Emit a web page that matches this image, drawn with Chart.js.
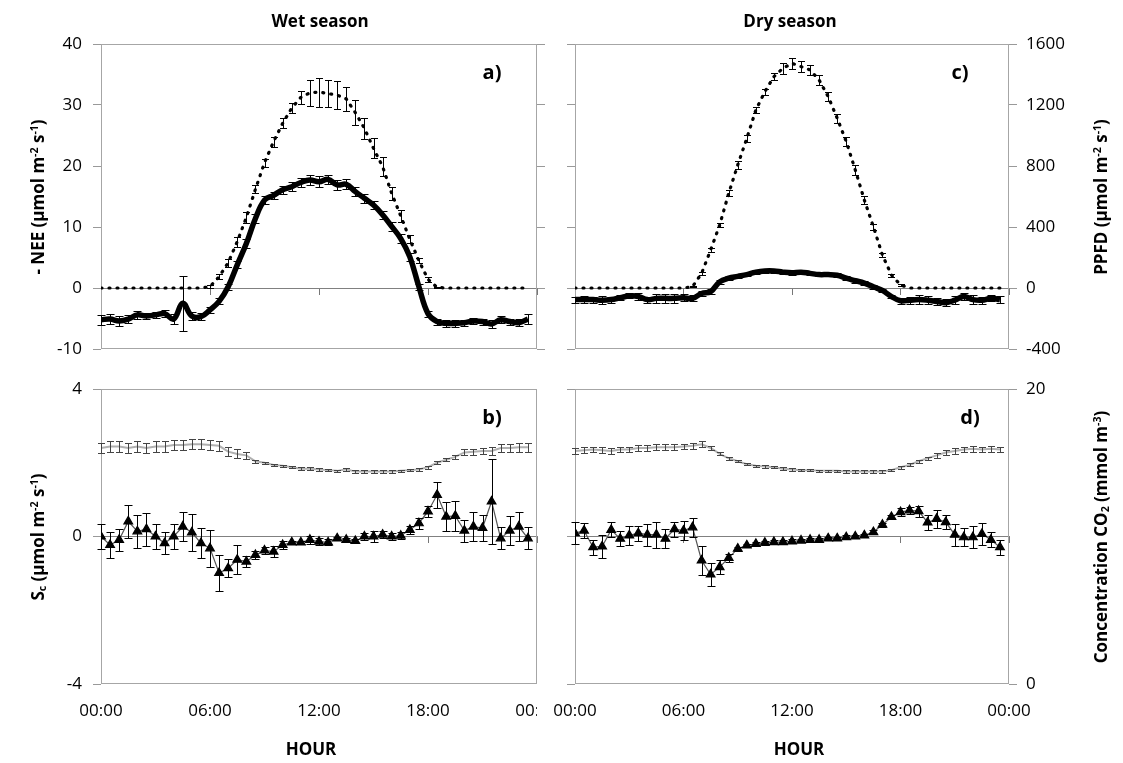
<!DOCTYPE html>
<html><head><meta charset="utf-8">
<script src="https://cdn.jsdelivr.net/npm/chart.js@4.4.1/dist/chart.umd.min.js"></script>
<style>
html,body{margin:0;padding:0;background:#fff;}
body{width:1123px;height:763px;position:relative;overflow:hidden;font-family:'Open Sans',sans-serif;color:#000;}
.pane{position:absolute;}
.pane canvas{display:block;}
.t{position:absolute;font-weight:bold;white-space:nowrap;transform:translate(-50%,-50%);line-height:1;z-index:5;}
.r{transform:translate(-50%,-50%) rotate(-90deg);}
sup{font-size:0.62em;vertical-align:0.55em;line-height:0;}
sub{font-size:0.62em;vertical-align:-0.25em;line-height:0;}
</style></head><body>
<div class="pane" style="left:0;top:0;z-index:1"><canvas id="cA" width="560" height="360"></canvas></div>
<div class="pane" style="left:0;top:360px;z-index:1"><canvas id="cB" width="560" height="403"></canvas></div>
<div style="position:absolute;left:537px;top:700px;width:23px;height:26px;background:#fff;z-index:2"></div>
<div class="pane" style="left:540px;top:0;z-index:3"><canvas id="cC" width="583" height="360"></canvas></div>
<div class="pane" style="left:540px;top:360px;z-index:3"><canvas id="cD" width="583" height="403"></canvas></div>

<div class="t" style="left:320px;top:20px;font-size:17px">Wet season</div>
<div class="t" style="left:790px;top:20px;font-size:17px">Dry season</div>
<div class="t" style="left:492px;top:72px;font-size:20px">a)</div>
<div class="t" style="left:492px;top:417px;font-size:20px">b)</div>
<div class="t" style="left:960px;top:72px;font-size:20px">c)</div>
<div class="t" style="left:970px;top:417px;font-size:20px">d)</div>
<div class="t" style="left:311px;top:748px;font-size:17px">HOUR</div>
<div class="t" style="left:799px;top:748px;font-size:17px">HOUR</div>
<div class="t r" style="left:37px;top:197px;font-size:17px">- NEE (µmol m<sup>-2</sup> s<sup>-1</sup>)</div>
<div class="t r" style="left:37px;top:537px;font-size:17px">S<sub>c</sub> (µmol m<sup>-2</sup> s<sup>-1</sup>)</div>
<div class="t r" style="left:1100px;top:197px;font-size:17px">PPFD (µmol m<sup>-2</sup> s<sup>-1</sup>)</div>
<div class="t r" style="left:1100px;top:537px;font-size:17px">Concentration CO<sub>2</sub> (mmol m<sup>-3</sup>)</div>

<script>
// ---------- data ----------
const hours = [0,0.5,1,1.5,2,2.5,3,3.5,4,4.5,5,5.5,6,6.5,7,7.5,8,8.5,9,9.5,10,10.5,11,11.5,
               12,12.5,13,13.5,14,14.5,15,15.5,16,16.5,17,17.5,18,18.5,19,19.5,20,20.5,21,21.5,22,22.5,23,23.5];
const xTickValues = [0,6,12,18,24];
const xTickLabels = ['00:00','06:00','12:00','18:00','00:00'];

// a) wet season
const neeWet = [-5.2,-5.1,-5.4,-5.1,-4.4,-4.6,-4.4,-4.2,-5.1,-2.5,-4.6,-4.7,-3.6,-2.2,0.2,3.8,7.3,11.4,14.4,15.2,16.1,16.6,17.3,17.7,
                17.4,17.8,16.9,17.0,15.8,14.7,13.6,12.0,10.1,8.1,5.1,0.2,-4.2,-5.5,-5.8,-5.8,-5.7,-5.4,-5.5,-5.9,-5.2,-5.5,-5.7,-5.1];
const neeWetErr = [0.8,0.8,0.8,0.6,0.6,0.5,0.5,0.6,0.8,4.5,0.6,0.6,0.5,0.5,0.5,0.6,0.7,0.7,0.7,0.6,0.7,0.7,0.8,0.8,
                   0.9,0.8,0.8,0.8,0.7,0.7,0.7,0.7,0.7,0.7,0.6,0.5,0.5,0.5,0.6,0.6,0.5,0.5,0.5,0.6,0.6,0.5,0.6,0.8];
const ppfdWet = [0,0,0,0,0,0,0,0,0,0,0,0,9,74,166,304,463,647,822,960,1080,1180,1250,1280,
                 1285,1275,1265,1240,1150,1047,916,796,621,472,319,179,57,4,0,0,0,0,0,0,0,0,0,0];
const ppfdWetErr = [0,0,0,0,0,0,0,0,0,0,0,0,8,15,26,33,37,27,27,33,33,33,44,87,
                    95,87,92,77,82,71,66,60,44,37,27,17,15,5,0,0,0,0,0,0,0,0,0,0];
// c) dry season
const neeDry = [-1.9,-1.9,-1.9,-2.0,-1.9,-1.6,-1.3,-1.4,-1.9,-1.7,-1.7,-1.7,-1.6,-1.7,-0.9,-0.6,1.0,1.6,1.9,2.2,2.6,2.8,2.8,2.6,
                2.5,2.6,2.4,2.2,2.2,2.1,1.6,1.2,0.8,0.2,-0.4,-1.4,-2.1,-2.0,-1.9,-2.0,-2.2,-2.4,-2.0,-1.4,-1.9,-2.0,-1.7,-1.9];
const neeDryErr = [0.5,0.6,0.5,0.7,0.5,0.4,0.4,0.5,0.5,0.7,0.7,0.7,0.6,0.5,0.4,0.4,0.3,0.3,0.3,0.3,0.3,0.3,0.3,0.3,
                   0.3,0.3,0.3,0.3,0.3,0.3,0.3,0.3,0.3,0.3,0.3,0.3,0.5,0.6,0.7,0.7,0.6,0.6,0.7,0.6,0.7,0.6,0.5,0.6];
const ppfdDry = [0,0,0,0,0,0,0,0,0,0,0,0,0,9,96,249,413,621,807,981,1167,1288,1386,1441,
                 1473,1452,1430,1364,1255,1113,960,774,577,402,216,85,20,0,0,0,0,0,0,0,0,0,0,0];
const ppfdDryErr = [0,0,0,0,0,0,0,0,0,0,0,0,0,5,12,15,15,20,25,25,20,20,25,35,
                    35,35,35,30,30,30,30,30,25,20,15,10,5,0,0,0,0,0,0,0,0,0,0,0];
// b) wet season
const scWet = [0,-0.23,-0.09,0.41,0.14,0.2,0,-0.18,0,0.27,0.11,-0.18,-0.32,-0.99,-0.86,-0.63,-0.68,-0.5,-0.38,-0.41,-0.23,-0.16,-0.16,-0.09,
               -0.14,-0.16,-0.05,-0.09,-0.12,0,0,0.05,0,0.02,0.18,0.36,0.68,1.13,0.54,0.56,0.16,0.27,0.23,0.95,-0.05,0.16,0.27,-0.05];
const scWetErr = [0.35,0.35,0.3,0.45,0.45,0.45,0.35,0.3,0.35,0.4,0.5,0.4,0.5,0.5,0.25,0.4,0.15,0.1,0.1,0.15,0.1,0.05,0.05,0.1,
                  0.1,0.08,0.05,0.05,0.05,0.1,0.15,0.1,0.1,0.1,0.1,0.15,0.15,0.35,0.4,0.4,0.3,0.4,0.35,1.15,0.3,0.4,0.4,0.3];
const co2Wet = [16.0,16.1,16.1,16.0,16.1,16.0,16.1,16.1,16.2,16.2,16.25,16.25,16.2,16.15,15.75,15.6,15.5,15.1,15.0,14.85,14.8,14.7,14.6,14.6,
                14.55,14.5,14.45,14.55,14.4,14.4,14.4,14.4,14.4,14.45,14.5,14.55,14.7,15.0,15.2,15.4,15.7,15.75,15.8,15.8,16.0,16.0,16.05,16.05];
const co2WetErr = [0.35,0.35,0.35,0.35,0.35,0.35,0.35,0.35,0.35,0.35,0.35,0.35,0.35,0.35,0.3,0.3,0.25,0.1,0.08,0.08,0.08,0.08,0.08,0.08,
                   0.08,0.08,0.08,0.1,0.08,0.08,0.08,0.08,0.08,0.08,0.08,0.08,0.1,0.1,0.1,0.15,0.2,0.2,0.2,0.25,0.3,0.3,0.3,0.3];
// d) dry season
const scDry = [0.09,0.16,-0.29,-0.27,0.18,-0.06,0.03,0.09,0.05,0.05,-0.06,0.2,0.16,0.25,-0.65,-1.03,-0.83,-0.58,-0.33,-0.24,-0.2,-0.17,-0.15,-0.15,
               -0.13,-0.11,-0.09,-0.09,-0.05,-0.05,-0.02,0,0.03,0.12,0.32,0.53,0.66,0.71,0.69,0.38,0.48,0.39,0.05,-0.02,-0.02,0.07,-0.09,-0.29];
const scDryErr = [0.3,0.2,0.2,0.3,0.2,0.2,0.25,0.2,0.3,0.35,0.25,0.2,0.25,0.25,0.4,0.3,0.2,0.1,0.05,0.05,0.05,0.05,0.05,0.05,
                  0.05,0.05,0.05,0.05,0.05,0.05,0.05,0.05,0.05,0.05,0.05,0.05,0.1,0.1,0.15,0.2,0.25,0.2,0.3,0.25,0.3,0.3,0.2,0.2];
const co2Dry = [15.8,15.85,15.9,15.85,15.8,15.9,15.9,16.0,16.0,16.05,16.05,16.05,16.1,16.15,16.25,16.0,15.6,15.3,15.1,14.9,14.8,14.75,14.7,14.6,
                14.55,14.5,14.5,14.45,14.45,14.45,14.4,14.4,14.4,14.4,14.4,14.5,14.7,14.85,15.1,15.3,15.5,15.7,15.8,15.9,15.95,15.9,15.95,15.9];
const co2DryErr = [0.2,0.2,0.2,0.2,0.2,0.2,0.2,0.2,0.2,0.2,0.2,0.2,0.2,0.2,0.2,0.15,0.1,0.08,0.08,0.08,0.08,0.08,0.08,0.08,
                   0.08,0.08,0.08,0.08,0.08,0.08,0.08,0.08,0.08,0.08,0.08,0.08,0.1,0.1,0.1,0.1,0.15,0.15,0.2,0.2,0.2,0.2,0.2,0.2];

// ---------- helpers ----------
Chart.defaults.font.family = "'Open Sans', sans-serif";
Chart.defaults.color = '#000';

function pts(vals){ return vals.map((v,i)=>({x:hours[i], y:v})); }

const errorBars = {
  id:'errorBars',
  afterDatasetsDraw(chart){
    const ctx = chart.ctx;
    chart.data.datasets.forEach((ds,di)=>{
      if(!ds.errors) return;
      const meta = chart.getDatasetMeta(di);
      const xs = chart.scales[meta.xAxisID], ys = chart.scales[meta.yAxisID];
      const cap = ds.errCap || 4;
      ctx.save();
      ctx.strokeStyle = ds.errColor || '#000';
      ctx.lineWidth = 1;
      ctx.beginPath();
      ds.data.forEach((p,i)=>{
        const e = ds.errors[i];
        if(!e) return;
        const x = Math.round(xs.getPixelForValue(p.x))+0.5;
        const y1 = Math.round(ys.getPixelForValue(p.y+e))+0.5;
        const y2 = Math.round(ys.getPixelForValue(p.y-e))+0.5;
        ctx.moveTo(x,y1); ctx.lineTo(x,y2);
        ctx.moveTo(x-cap,y1); ctx.lineTo(x+cap,y1);
        ctx.moveTo(x-cap,y2); ctx.lineTo(x+cap,y2);
      });
      ctx.stroke();
      ctx.restore();
    });
  }
};
const frame = {
  id:'frame',
  beforeDatasetsDraw(chart){
    const a = chart.chartArea, c = chart.ctx;
    c.save(); c.strokeStyle = '#a6a6a6'; c.lineWidth = 1;
    c.strokeRect(Math.round(a.left)+0.5, Math.round(a.top)+0.5, Math.round(a.right-a.left)-1, Math.round(a.bottom-a.top)-1);
    c.restore();
  }
};

function yAxis(pos,min,max,step,showLabels,width,showTicks=true){
  return {type:'linear', position:pos, min, max,
    ticks:{stepSize:step, display:showLabels, padding:pos==='left'?11:9, color:'#000', font:{size:17}, callback:v=>String(v)},
    grid:{display:showTicks, drawOnChartArea:false, drawTicks:true, tickLength:8, color:'#999', lineWidth:1},
    border:{display:false},
    afterFit(s){ s.width = width; s.paddingTop = 0; s.paddingBottom = 0; }};
}
function zeroAxis(){
  return {type:'linear', axis:'x', min:0, max:24, position:{y:0},
    ticks:{display:false, stepSize:6},
    grid:{drawOnChartArea:false, drawTicks:true, tickLength:6, color:'#777'},
    border:{display:true, color:'#808080', width:1},
    afterFit(s){ s.paddingLeft = 0; s.paddingRight = 0; }};
}
function bottomAxis(show){
  if(!show) return {type:'linear', min:0, max:24, display:false};
  return {type:'linear', position:'bottom', min:0, max:24,
    ticks:{stepSize:6, autoSkip:false, maxRotation:0, minRotation:0, padding:17, color:'#000', font:{size:17},
           callback:v=>{const k = xTickValues.indexOf(v); return k<0 ? '' : xTickLabels[k];}},
    grid:{display:false, drawTicks:false}, border:{display:false},
    afterFit(s){ s.height = 79; s.paddingLeft = 0; s.paddingRight = 0; }};
}
function make(id, datasets, scales, padding){
  new Chart(document.getElementById(id), {
    type:'line',
    data:{datasets},
    options:{responsive:false, animation:false, devicePixelRatio:1,
      layout:{padding},
      plugins:{legend:{display:false}, tooltip:{enabled:false}},
      scales},
    plugins:[frame, errorBars]
  });
}
function neeSet(vals, errs){
  return {data:pts(vals), yAxisID:'y', borderColor:'#000', borderWidth:5.5, pointRadius:0, tension:0.4,
          errors:errs, errColor:'#000', errCap:4};
}
function ppfdSet(vals, errs){
  return {data:pts(vals), yAxisID:'y2', borderColor:'#000', borderWidth:3.2, borderDash:[1,7], borderCapStyle:'round',
          pointRadius:0, tension:0, errors:errs, errColor:'#000', errCap:3.5};
}
function scSet(vals, errs){
  return {data:pts(vals), yAxisID:'y', borderColor:'#555', borderWidth:1.2, pointStyle:'triangle', pointRadius:5,
          pointBackgroundColor:'#000', pointBorderColor:'#000', tension:0, errors:errs, errColor:'#000', errCap:4};
}
function co2Set(vals, errs){
  return {data:pts(vals), yAxisID:'y2', borderColor:'#b0b0b0', borderWidth:2, pointRadius:0, tension:0,
          errors:errs, errColor:'#444', errCap:3.5};
}

// a) wet: -NEE and PPFD
make('cA', [neeSet(neeWet, neeWetErr), ppfdSet(ppfdWet, ppfdWetErr)],
  {x:bottomAxis(false), xz:zeroAxis(), y:yAxis('left',-10,40,10,true,101), y2:yAxis('right',-400,1600,400,false,23)},
  {top:44, bottom:11, left:0, right:0});
// c) dry: -NEE and PPFD
make('cC', [neeSet(neeDry, neeDryErr), ppfdSet(ppfdDry, ppfdDryErr)],
  {x:bottomAxis(false), xz:zeroAxis(), y:yAxis('left',-10,40,10,false,35), y2:yAxis('right',-400,1600,400,true,114)},
  {top:44, bottom:11, left:0, right:0});
// b) wet: Sc and CO2
make('cB', [scSet(scWet, scWetErr), co2Set(co2Wet, co2WetErr)],
  {x:bottomAxis(true), xz:zeroAxis(), y:yAxis('left',-4,4,4,true,101), y2:yAxis('right',0,20,20,false,23,false)},
  {top:29, bottom:0, left:0, right:0});
// d) dry: Sc and CO2
make('cD', [scSet(scDry, scDryErr), co2Set(co2Dry, co2DryErr)],
  {x:bottomAxis(true), xz:zeroAxis(), y:yAxis('left',-4,4,4,false,35), y2:yAxis('right',0,20,20,true,114)},
  {top:29, bottom:0, left:0, right:0});
</script>
</body></html>
